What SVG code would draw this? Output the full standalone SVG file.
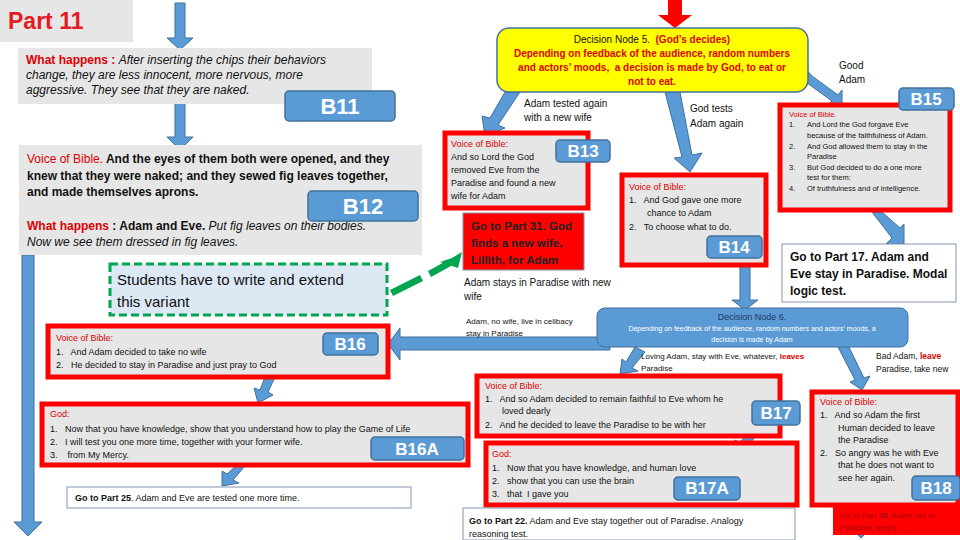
<svg xmlns="http://www.w3.org/2000/svg" width="960" height="540" viewBox="0 0 960 540">
<style>
text{font-family:"Liberation Sans",Arial,sans-serif;fill:#111;white-space:pre}
.grey{fill:#e6e6e6}
.rbox{fill:#e6e6e6;stroke:#f00;stroke-width:5}
.badge{fill:#5b9bd5;stroke:#41719c;stroke-width:1.5}
.bt{fill:#fff;font-weight:bold;font-size:17px;text-anchor:middle}
.red{fill:#d00;font-weight:bold}
.rn{fill:#d00}
.arr{fill:#5b9bd5;stroke:#41719c;stroke-width:1}
.s10{font-size:10px}
.s9{font-size:9px}
.s8{font-size:7.5px}
.wbox{fill:#fff;stroke:#8497b0;stroke-width:1}
</style>
<g id="connectors">
<polygon class="arr" points="175,3 185,3 185,38 193,38 180,50 167,38 175,38"/>
<polygon class="arr" points="175,103 185,103 185,137 193,137 180,150 167,137 175,137"/>
<polygon class="arr" points="22,255 34,255 34,522 42,522 28,536 14,522 22,522"/>
<polygon fill="#f00" points="668,0 682,0 682,15 692,15 675,28 658,15 668,15"/>
<polygon class="arr" points="505,92 520,92 498,125 505,128 485,136 482,116 490,118"/>
<polygon class="arr" points="665,92 680,92 692,155 702,153 690,172 674,158 682,157"/>
<polygon class="arr" points="805,68 812,76 838,95 842,90 842,106 826,106 832,101 803,80"/>
<polygon class="arr" points="872,212 882,212 900,228 904,224 904,244 886,244 892,238"/>
<polygon class="arr" points="740,265 750,265 750,300 758,300 745,310 732,300 740,300"/>
<polygon class="arr" points="610,337 610,350 400,350 400,360 388,344 400,328 400,337"/>
<polygon class="arr" points="265,377 275,377 268,392 273,395 258,403 254,388 260,390"/>
<polygon class="arr" points="237,465 244,467 233,480 239,483 222,486 222,471 227,474"/>
<polygon class="arr" points="635,347 645,352 632,368 638,371 620,374 622,359 626,362"/>
<polygon class="arr" points="838,347 848,345 864,378 870,376 862,390 850,382 855,380"/>
<polygon class="arr" points="754,425 762,430 746,447 752,450 733,455 735,440 740,443"/>
<polygon class="arr" points="787,476 795,481 782,498 788,501 769,507 771,492 776,495"/>
<polygon class="arr" points="856,505 866,505 866,525 874,525 861,538 848,525 856,525"/>
<polygon fill="#00a550" points="390,290 420,275 423,281 393,296"/>
<polygon fill="#00a550" points="428,271 448,260 451,266 431,277"/>
<polygon fill="#00a550" points="452,258 462,252 458,268 440,262"/>
</g>
<g id="part11"><rect x="0" y="0" width="133" height="42" fill="#e6e6e6"/><text x="8" y="29" font-size="23" font-weight="bold" style="fill:#e31b23">Part 11</text></g>
<g id="what1"><rect class="grey" x="18" y="48" width="354" height="56"/>
<text x="26" y="64" font-size="12"><tspan class="red">What happens : </tspan><tspan font-style="italic">After inserting the chips their behaviors</tspan></text>
<text x="26" y="79" font-size="12" font-style="italic">change, they are less innocent, more nervous, more</text>
<text x="26" y="94" font-size="12" font-style="italic">aggressive. They see that they are naked.</text></g>
<g id="B11"><rect class="badge" x="285" y="91" width="110" height="30" rx="4"/><text class="bt" x="340" y="114" style="font-size:22px">B11</text></g>
<g id="box12"><rect class="grey" x="19" y="145" width="403" height="110"/>
<text x="27" y="163" font-size="12"><tspan class="rn">Voice of Bible.</tspan><tspan font-weight="bold"> And the eyes of them both were opened, and they</tspan></text>
<text x="27" y="180" font-size="12" font-weight="bold">knew that they were naked; and they sewed fig leaves together,</text>
<text x="27" y="196" font-size="12" font-weight="bold">and made themselves aprons.</text>
<text x="27" y="230" font-size="12"><tspan class="red">What happens</tspan><tspan font-weight="bold"> : Adam and Eve. </tspan><tspan font-style="italic">Put fig leaves on their bodies.</tspan></text>
<text x="27" y="246" font-size="12" font-style="italic">Now we see them dressed in fig leaves.</text></g>
<g id="B12"><rect class="badge" x="308" y="191" width="110" height="30" rx="4"/><text class="bt" x="363" y="214" style="font-size:22px">B12</text></g>
<g id="students"><rect x="110" y="264" width="277" height="51" fill="#dde8f5" stroke="#00a550" stroke-width="3" stroke-dasharray="8,4"/>
<text x="117" y="285" font-size="15">Students have to write and extend</text><text x="117" y="307" font-size="15">this variant</text></g>
<g id="B16"><rect class="rbox" x="48" y="326" width="340" height="51"/>
<text x="56" y="341" class="s9 rn">Voice of Bible:</text>
<text x="56" y="355" class="s9">1.   And Adam decided to take no wife</text>
<text x="56" y="368" class="s9">2.   He decided to stay in Paradise and just pray to God</text>
<rect class="badge" x="323" y="333" width="55" height="22" rx="4"/><text class="bt" x="350" y="350">B16</text></g>
<g id="B16A"><rect class="rbox" x="42" y="404" width="426" height="61"/>
<text x="50" y="417" class="s9 rn">God:</text>
<text x="50" y="432" class="s9">1.   Now that you have knowledge, show that you understand how to play the Game of Life</text>
<text x="50" y="445" class="s9">2.   I will test you one more time, together with your former wife.</text>
<text x="50" y="458" class="s9">3.    from My Mercy.</text>
<rect class="badge" x="371" y="437" width="93" height="23" rx="4"/><text class="bt" x="417" y="455">B16A</text></g>
<g id="part25"><rect class="wbox" x="67" y="487" width="344" height="21"/><text x="75" y="501" class="s9"><tspan font-weight="bold">Go to Part 25</tspan>. Adam and Eve are tested one more time.</text></g>
<g id="dn5"><rect x="497" y="28" width="311" height="64" rx="12" fill="#ffff00" stroke="#41719c" stroke-width="1.5"/>
<text x="652" y="43" text-anchor="middle" class="s10">Decision Node 5.  <tspan class="red">(God’s decides)</tspan></text>
<text x="652" y="57" text-anchor="middle" class="s10 red">Depending on feedback of the audience, random numbers</text>
<text x="652" y="71" text-anchor="middle" class="s10 red">and actors’ moods,  a decision is made by God, to eat or</text>
<text x="652" y="85" text-anchor="middle" class="s10 red">not to eat.</text></g>
<text x="524" y="107" class="s10">Adam tested again</text><text x="524" y="121" class="s10">with a new wife</text>
<text x="690" y="112" class="s10">God tests</text><text x="690" y="127" class="s10">Adam again</text>
<text x="839" y="69" class="s10">Good</text><text x="839" y="83" class="s10">Adam</text>
<g id="B13"><rect class="rbox" x="445" y="133" width="143" height="75"/>
<text x="451" y="147" class="s9 rn">Voice of Bible:</text>
<text x="451" y="160" class="s9">And so Lord the God</text>
<text x="451" y="173" class="s9">removed Eve from the</text>
<text x="451" y="186" class="s9">Paradise and found a new</text>
<text x="451" y="199" class="s9">wife for Adam</text>
<rect class="badge" x="556" y="140" width="54" height="22" rx="4"/><text class="bt" x="583" y="157">B13</text></g>
<g id="part31"><rect x="463" y="213" width="121" height="57" fill="#f00" stroke="#8497b0"/>
<text x="471" y="230" font-size="11.5" font-weight="bold" style="fill:#222">Go to Part 31. God</text>
<text x="471" y="247" font-size="11.5" font-weight="bold" style="fill:#222">finds a new wife,</text>
<text x="471" y="264" font-size="11.5" font-weight="bold" style="fill:#222">Lillith, for Adam</text></g>
<text x="464" y="286" class="s10">Adam stays in Paradise with new</text><text x="464" y="300" class="s10">wife</text>
<g id="B14"><rect class="rbox" x="622" y="175" width="144" height="90"/>
<text x="629" y="190" class="s9 rn">Voice of Bible:</text>
<text x="629" y="203" class="s9">1.   And God gave one more</text>
<text x="647" y="216" class="s9">chance to Adam</text>
<text x="629" y="230" class="s9">2.   To choose what to do.</text>
<rect class="badge" x="707" y="236" width="55" height="22" rx="4"/><text class="bt" x="734" y="253">B14</text></g>
<g id="B15"><rect class="rbox" x="780" y="105" width="170" height="105"/>
<text x="789" y="117" class="s8 rn">Voice of Bible.</text>
<text x="789" y="127" class="s8">1.</text><text x="807" y="127" class="s8">And Lord the God forgave Eve</text>
<text x="807" y="138" class="s8">because of the faithfulness of Adam.</text>
<text x="789" y="149" class="s8">2.</text><text x="807" y="149" class="s8">And God allowed them to stay in the</text>
<text x="807" y="159" class="s8">Paradise</text>
<text x="789" y="170" class="s8">3.</text><text x="807" y="170" class="s8">But God decided to do a one more</text>
<text x="807" y="180" class="s8">test for them:</text>
<text x="789" y="191" class="s8">4.</text><text x="807" y="191" class="s8">Of truthfulness and of intelligence.</text>
<rect class="badge" x="899" y="88" width="55" height="22" rx="4"/><text class="bt" x="926" y="105">B15</text></g>
<g id="part17"><rect class="wbox" x="782" y="244" width="174" height="58"/>
<text x="790" y="261" font-size="12" font-weight="bold">Go to Part 17. Adam and</text>
<text x="790" y="278" font-size="12" font-weight="bold">Eve stay in Paradise. Modal</text>
<text x="790" y="295" font-size="12" font-weight="bold">logic test.</text></g>
<g id="dn6"><rect x="597" y="308" width="311" height="39" rx="8" fill="#5b9bd5" stroke="#41719c"/>
<text x="752" y="320" text-anchor="middle" class="s9" style="fill:#1f3864">Decision Node 6.</text>
<text x="752" y="331" text-anchor="middle" font-size="7" style="fill:#fff">Depending on feedback of the audience, random numbers and actors’ moods, a</text>
<text x="752" y="342" text-anchor="middle" font-size="7" style="fill:#fff">decision is made by Adam</text></g>
<text x="466" y="324" font-size="8">Adam, no wife, live in celibacy</text><text x="466" y="336" font-size="8">stay in Paradise</text>
<text x="641" y="359" font-size="8">Loving Adam, stay with Eve, whatever, <tspan class="red">leaves</tspan></text><text x="641" y="371" font-size="8">Paradise</text>
<text x="876" y="359" font-size="8.5">Bad Adam, <tspan class="red">leave</tspan></text><text x="876" y="372" font-size="8.5">Paradise, take new</text>
<g id="B17"><rect class="rbox" x="477" y="376" width="303" height="60"/>
<text x="485" y="389" class="s9 rn">Voice of Bible:</text>
<text x="485" y="402" class="s9">1.   And so Adam decided to remain faithful to Eve whom he</text>
<text x="502" y="414" class="s9">loved dearly</text>
<text x="485" y="428" class="s9">2.   And he decided to leave the Paradise to be with her</text>
<rect class="badge" x="752" y="401" width="48" height="24" rx="4"/><text class="bt" x="776" y="419">B17</text></g>
<g id="B17A"><rect class="rbox" x="486" y="443" width="311" height="62"/>
<text x="492" y="457" class="s9 rn">God:</text>
<text x="492" y="471" class="s9">1.   Now that you have knowledge, and human love</text>
<text x="492" y="484" class="s9">2.   show that you can use the brain</text>
<text x="492" y="497" class="s9">3.   that  I gave you</text>
<rect class="badge" x="674" y="477" width="66" height="23" rx="4"/><text class="bt" x="707" y="494">B17A</text></g>
<g id="part22"><rect class="wbox" x="463" y="508" width="332" height="32"/>
<text x="469" y="524" class="s9"><tspan font-weight="bold">Go to Part 22.</tspan> Adam and Eve stay together out of Paradise. Analogy</text>
<text x="469" y="537" class="s9">reasoning test.</text></g>
<g id="B18"><rect class="rbox" x="812" y="392" width="146" height="113"/>
<text x="820" y="405" class="s9 rn">Voice of Bible:</text>
<text x="820" y="418" class="s9">1.   And so Adam the first</text>
<text x="838" y="431" class="s9">Human decided to leave</text>
<text x="838" y="443" class="s9">the Paradise</text>
<text x="820" y="456" class="s9">2.   So angry was he with Eve</text>
<text x="838" y="468" class="s9">that he does not want to</text>
<text x="838" y="481" class="s9">see her again.</text>
<rect class="badge" x="912" y="476" width="48" height="24" rx="4"/><text class="bt" x="936" y="494">B18</text></g>
<g id="part30"><rect x="833" y="505" width="127" height="30" fill="#f00"/>
<text x="840" y="518" font-size="8" style="fill:#a00">Go to Part <tspan font-weight="bold">30</tspan>. Adam out of</text>
<text x="840" y="530" font-size="8" style="fill:#a00">Paradise, angry.</text></g>
</svg>
